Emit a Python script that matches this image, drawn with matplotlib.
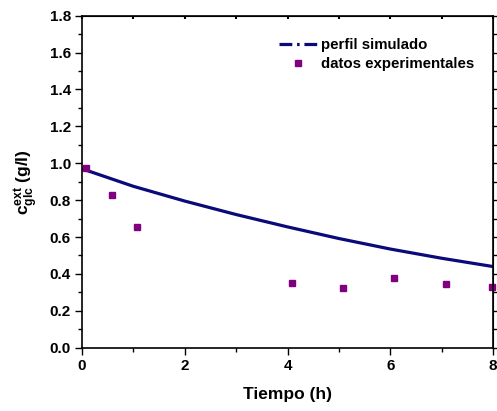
import matplotlib
matplotlib.use("Agg")
import matplotlib.pyplot as plt
from matplotlib.lines import Line2D
from matplotlib.ticker import MultipleLocator

plt.rcParams['font.family'] = ['Liberation Sans', 'DejaVu Sans']
plt.rcParams['mathtext.fontset'] = 'custom'
plt.rcParams['mathtext.bf'] = 'Liberation Sans:bold'
plt.rcParams['mathtext.rm'] = 'Liberation Sans'

# simulated profile
t_sim = [0, 1, 2, 3, 4, 5, 6, 7, 8]
c_sim = [0.970, 0.875, 0.795, 0.722, 0.655, 0.592, 0.535, 0.485, 0.440]

# experimental data
t_exp = [0.07, 0.59, 1.08, 4.08, 5.09, 6.08, 7.08, 7.99]
c_exp = [0.973, 0.828, 0.653, 0.349, 0.324, 0.376, 0.347, 0.329]

xticks = [0, 2, 4, 6, 8]
yticks = [0.0, 0.2, 0.4, 0.6, 0.8, 1.0, 1.2, 1.4, 1.6, 1.8]

fig = plt.figure(figsize=(4.97, 4.11), dpi=100)
ax = fig.add_axes([82/497, 1-347.7/411, 411/497, 332/411])

navy = '#0a0a7a'
purple = '#800080'

ax.plot(t_sim, c_sim, color=navy, lw=2.3, solid_capstyle='butt')
ax.plot(t_exp, c_exp, ls='none', marker='s', ms=5, color=purple, mec=purple, clip_on=False)

ax.set_xlim(0, 8)
ax.set_ylim(0, 1.8)
ax.set_xticks(xticks)
ax.set_yticks(yticks)
ax.set_xticklabels([str(v) for v in xticks], fontweight='bold', fontsize=11)
ax.set_yticklabels([f"{v:.1f}" for v in yticks], fontweight='bold', fontsize=11)
ax.xaxis.set_minor_locator(MultipleLocator(1))
ax.yaxis.set_minor_locator(MultipleLocator(0.1))
ax.tick_params(which='major', direction='out', length=5, width=1, pad=3)
ax.tick_params(which='minor', direction='out', length=3, width=1)
# mirror ticks on top/right (short)
axt = ax.secondary_xaxis('top')
axt.set_xticks(xticks)
axt.xaxis.set_minor_locator(MultipleLocator(1))
axt.tick_params(which='both', direction='in', length=2, width=1.5, labeltop=False)
axr = ax.secondary_yaxis('right')
axr.set_yticks(yticks)
axr.yaxis.set_minor_locator(MultipleLocator(0.1))
axr.tick_params(which='major', direction='out', length=4, width=1, labelright=False)
axr.tick_params(which='minor', direction='out', length=3, width=1)
for s in ax.spines.values():
    s.set_linewidth(1.2)

ax.set_xlabel('Tiempo (h)', fontweight='bold', fontsize=12.5, labelpad=10)
ax.set_ylabel(r'$\mathbf{c^{ext}_{glc}}$ $\mathbf{(g/l)}$', fontsize=12.5, labelpad=6)

h1 = Line2D([], [], color=navy, lw=2.3, ls=(0, (4, 1.5, 0.8, 1.5)))
h2 = Line2D([], [], ls='none', marker='s', ms=5, color=purple)
leg = ax.legend([h1, h2], ['perfil simulado', 'datos experimentales'],
                loc='upper left', bbox_to_anchor=(0.462, 0.955), frameon=False,
                borderpad=0, handlelength=2.5, handletextpad=0.3, labelspacing=0.35,
                prop={'weight': 'bold', 'size': 10.8})

fig.savefig('out.png', dpi=100)
